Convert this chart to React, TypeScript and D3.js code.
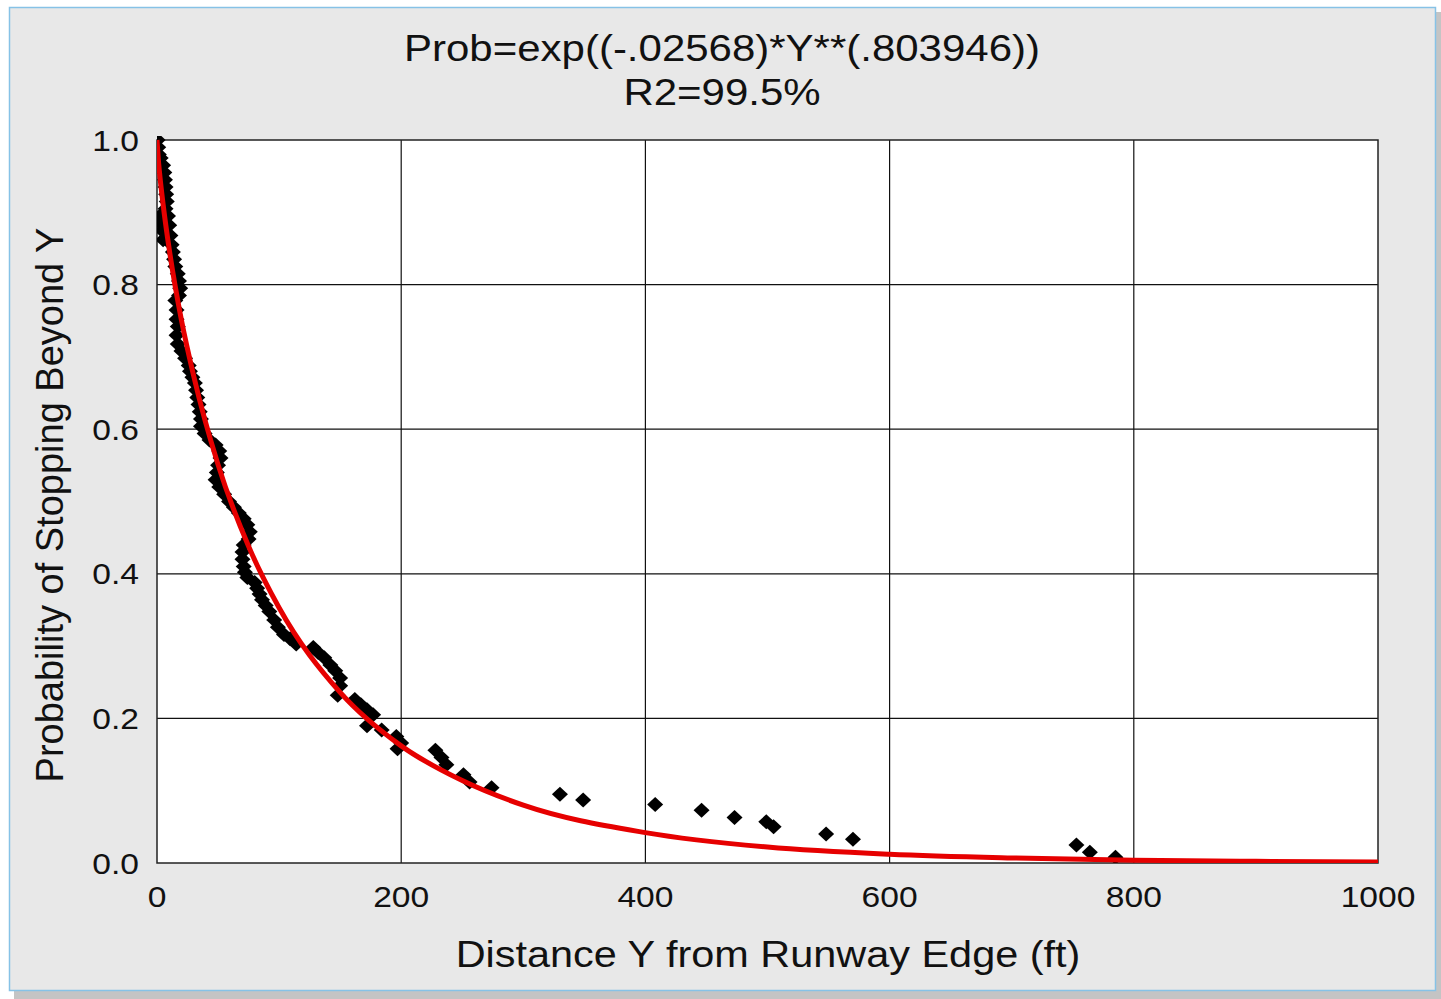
import React from 'react';
import * as d3 from 'd3';

// observed points (distance ft, probability)
const obsX = [0.5, 1, 1.5, 3, 5, 6, 6.5, 7, 7.5, 8, 7, 9, 2.5, 3, 10, 4, 11, 5, 12, 13, 14, 15, 17, 18, 19, 18, 15, 16, 16, 17, 16, 17, 20, 23, 26, 27, 29, 31, 32, 33, 34, 35, 36, 36, 39, 43, 48, 51, 52, 50, 49, 48, 51, 55, 59, 63, 67, 71, 74, 76, 75, 71, 70, 70, 71, 72, 74, 80, 82, 84, 86, 89, 92, 96, 99, 104, 109, 114, 128, 132, 137, 142, 146, 150, 150, 148, 162, 167, 172, 177, 172, 184, 196, 200, 197, 228, 233, 237, 251, 256, 274, 330, 349, 408, 446, 473, 499, 505, 548, 570, 753, 764, 785];
const obsY = [1.0, 0.99, 0.98, 0.975, 0.965, 0.955, 0.945, 0.935, 0.925, 0.915, 0.905, 0.895, 0.895, 0.885, 0.882, 0.875, 0.868, 0.862, 0.855, 0.845, 0.835, 0.825, 0.815, 0.805, 0.795, 0.785, 0.778, 0.765, 0.752, 0.742, 0.73, 0.718, 0.708, 0.698, 0.688, 0.68, 0.672, 0.664, 0.654, 0.644, 0.634, 0.624, 0.614, 0.604, 0.594, 0.585, 0.578, 0.57, 0.56, 0.55, 0.54, 0.53, 0.52, 0.51, 0.5, 0.492, 0.484, 0.476, 0.468, 0.458, 0.448, 0.44, 0.43, 0.42, 0.41, 0.402, 0.395, 0.388, 0.38, 0.372, 0.364, 0.356, 0.348, 0.336, 0.326, 0.316, 0.31, 0.303, 0.298, 0.291, 0.284, 0.274, 0.266, 0.256, 0.245, 0.232, 0.226, 0.219, 0.212, 0.205, 0.19, 0.184, 0.175, 0.166, 0.158, 0.156, 0.146, 0.136, 0.122, 0.112, 0.104, 0.095, 0.087, 0.081, 0.073, 0.063, 0.057, 0.05, 0.04, 0.033, 0.025, 0.015, 0.008];

// fitted curve
const fitX = [0, 1, 2, 5, 10, 20, 30, 50, 75, 100, 150, 200, 250, 300, 400, 500, 600, 700, 800, 900, 1000];
const fitY = [1.0, 0.975, 0.956, 0.911, 0.849, 0.751, 0.674, 0.551, 0.438, 0.353, 0.236, 0.162, 0.114, 0.08, 0.042, 0.022, 0.012, 0.0069, 0.0039, 0.0023, 0.0013];

const xTicks = [0, 200, 400, 600, 800, 1000];
const yTicks = [0, 0.2, 0.4, 0.6, 0.8, 1.0];

const titleLines = ['Prob=exp((-.02568)*Y**(.803946))', 'R2=99.5%'];
const xLabel = 'Distance Y from Runway Edge (ft)';
const yLabel = 'Probability of Stopping Beyond Y';

const W = 1441;
const H = 999;
const plot = { left: 157, right: 1378, top: 140, bottom: 863 };
const FONT = '"Liberation Sans", Arial, sans-serif';
const SX = 1.12; // text in the source is a little wider than Arial

export default function App() {
  const x = d3.scaleLinear().domain([0, 1000]).range([plot.left, plot.right]);
  const y = d3.scaleLinear().domain([0, 1]).range([plot.bottom, plot.top]);

  const line = d3.line<number>()
    .x((d, i) => x(fitX[i]))
    .y((d, i) => y(fitY[i]))
    .curve(d3.curveMonotoneX);

  const diamond = (cx: number, cy: number) =>
    `M${cx},${cy - 7.5}L${cx + 8},${cy}L${cx},${cy + 7.5}L${cx - 8},${cy}Z`;

  return (
    <svg width={W} height={H} style={{ position: 'absolute', left: 0, top: 0, display: 'block' }}>
      <defs>
        <clipPath id="plotClip">
          <rect x={plot.left} y={plot.top - 4} width={plot.right - plot.left} height={plot.bottom - plot.top + 4} />
        </clipPath>
      </defs>
      <rect x={0} y={0} width={W} height={H} fill="#ffffff" />
      {/* shadow */}
      <rect x={14} y={12} width={1427} height={987} fill="#c4c4c4" />
      <rect x={9.5} y={7.5} width={1426} height={983} fill="#e8e8e8" stroke="#86c2e6" strokeWidth={1.5} />

      <rect x={plot.left} y={plot.top} width={plot.right - plot.left} height={plot.bottom - plot.top} fill="#ffffff" />

      {xTicks.slice(1, -1).map(t => (
        <line key={'gx' + t} x1={x(t)} x2={x(t)} y1={plot.top} y2={plot.bottom} stroke="#111" strokeWidth={1.2} />
      ))}
      {yTicks.slice(1, -1).map(t => (
        <line key={'gy' + t} x1={plot.left} x2={plot.right} y1={y(t)} y2={y(t)} stroke="#111" strokeWidth={1.2} />
      ))}
      <rect x={plot.left} y={plot.top} width={plot.right - plot.left} height={plot.bottom - plot.top} fill="none" stroke="#222" strokeWidth={1.5} />

      <g clipPath="url(#plotClip)">
        {obsX.map((v, i) => (
          <path key={'p' + i} d={diamond(x(v), y(obsY[i]))} fill="#000" />
        ))}
        <path d={line(fitX) || ''} fill="none" stroke="#e60000" strokeWidth={5} />
      </g>

      {xTicks.map(t => (
        <text key={'tx' + t} transform={`translate(${x(t)},907) scale(${SX},1)`} textAnchor="middle"
          fontFamily={FONT} fontSize={30} fill="#111">{d3.format('d')(t)}</text>
      ))}
      {yTicks.map(t => (
        <text key={'ty' + t} transform={`translate(139,${y(t) + 10.5}) scale(${SX},1)`} textAnchor="end"
          fontFamily={FONT} fontSize={30} fill="#111">{d3.format('.1f')(t)}</text>
      ))}

      {titleLines.map((s, i) => (
        <text key={'t' + i} transform={`translate(722,${61 + i * 44}) scale(${SX},1)`} textAnchor="middle"
          fontFamily={FONT} fontSize={37.5} fill="#111">{s}</text>
      ))}
      <text transform={`translate(768,967) scale(${SX},1)`} textAnchor="middle"
        fontFamily={FONT} fontSize={37} fill="#111">{xLabel}</text>
      <text transform="translate(63,505) rotate(-90)" textAnchor="middle"
        fontFamily={FONT} fontSize={38} fill="#111">{yLabel}</text>
    </svg>
  );
}
